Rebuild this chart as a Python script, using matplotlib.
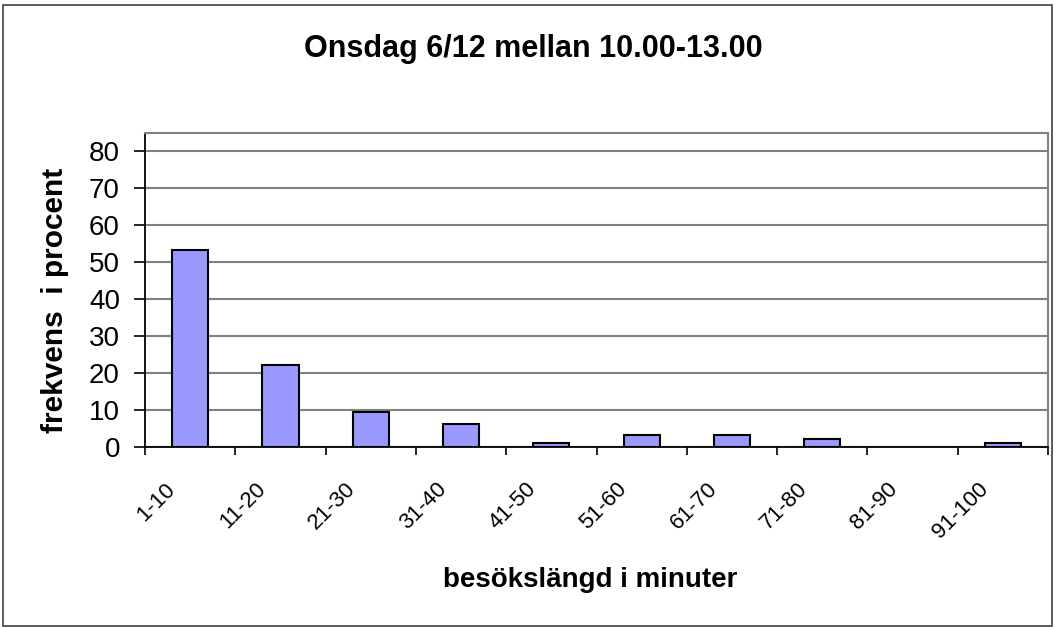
import matplotlib.pyplot as plt
import matplotlib.transforms as mtransforms
from matplotlib.patches import Rectangle

plt.rcParams['font.family'] = ['Liberation Sans', 'DejaVu Sans']

# Data
kategorier = ["1-10", "11-20", "21-30", "31-40", "41-50",
              "51-60", "61-70", "71-80", "81-90", "91-100"]
procent = [53.3, 22.2, 9.4, 6.1, 1.1, 3.3, 3.3, 2.2, 0, 1.1]
y_ticks = [0, 10, 20, 30, 40, 50, 60, 70, 80]

fig = plt.figure(figsize=(10.55, 6.28), dpi=100)
ax = fig.add_axes([145 / 1055, 1 - 447 / 628, (1048 - 145) / 1055, (447 - 133) / 628])

x = list(range(len(kategorier)))
kanter = [1.5 if v > 0 else 0 for v in procent]
ax.bar(x, procent, width=0.4, color='#9999ff', edgecolor='black', linewidth=kanter, zorder=3)

ax.set_xlim(-0.5, len(kategorier) - 0.5)
ax.set_ylim(0, 84.9)
ax.set_yticks(y_ticks)
ax.set_yticklabels([str(v) for v in y_ticks], fontsize=20)
ax.tick_params(axis='y', length=8, width=1.2, direction='out', pad=10)

# Ticks at category boundaries
ax.set_xticks([i - 0.5 for i in range(len(kategorier) + 1)])
ax.set_xticklabels([])
ax.tick_params(axis='x', length=6, width=1.2, direction='out')

# Rotated category labels, Excel style
trans = mtransforms.blended_transform_factory(ax.transData, ax.transAxes)
trans = trans + mtransforms.ScaledTranslation(-18 / 100, -39 / 100, fig.dpi_scale_trans)
for i, lab in enumerate(kategorier):
    ax.text(i, 0, lab, transform=trans, rotation=45, ha='right', va='center',
            rotation_mode='anchor', fontsize=16)

ax.grid(axis='y', color='#808080', linewidth=1.5, zorder=0)
ax.spines['left'].set_color('black')
ax.spines['bottom'].set_color('black')
ax.spines['left'].set_linewidth(1.3)
ax.spines['bottom'].set_linewidth(1.3)
ax.spines['top'].set_color('#808080')
ax.spines['right'].set_color('#808080')
ax.spines['top'].set_linewidth(1.5)
ax.spines['right'].set_linewidth(1.5)

fig.text(533 / 1055, 1 - 49 / 628, "Onsdag 6/12 mellan 10.00-13.00",
         ha='center', va='center', fontsize=22, fontweight='bold')
fig.text(55 / 1055, 1 - 300 / 628, "frekvens  i procent", rotation=90,
         ha='center', va='center', fontsize=21.5, fontweight='bold')
fig.text(590 / 1055, 1 - 580 / 628, "besökslängd i minuter",
         ha='center', va='center', fontsize=20, fontweight='bold')

# Chart border
fig.patches.append(Rectangle((3 / 1055, 2 / 628), 1049 / 1055, 621 / 628,
                             transform=fig.transFigure, fill=False,
                             edgecolor='#404040', linewidth=1.2))

fig.savefig("out.png", dpi=100)
